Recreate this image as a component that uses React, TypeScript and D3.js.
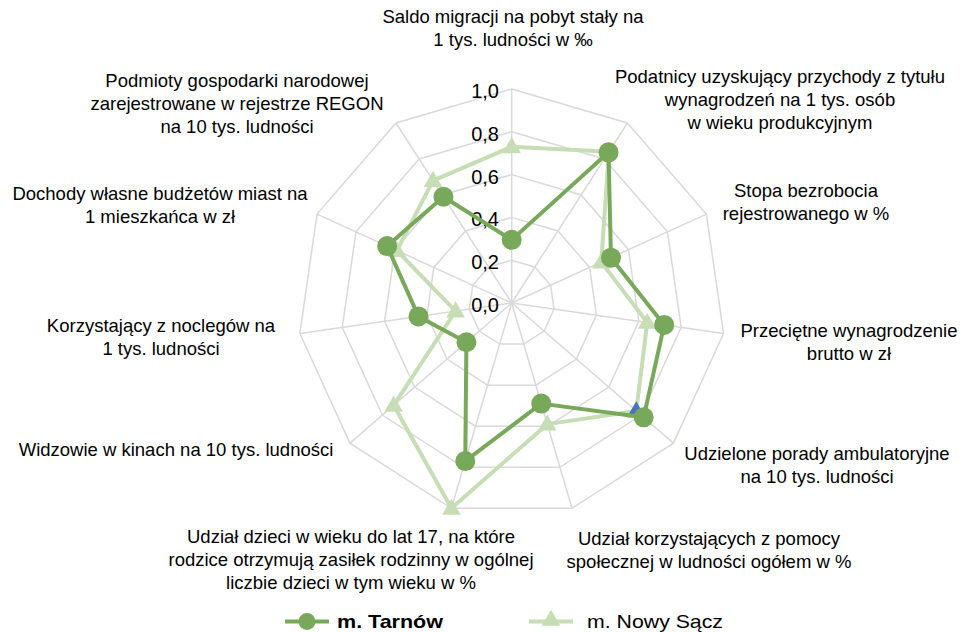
import React from "react";
import * as d3 from "d3";

const categories = [
  "Saldo migracji na pobyt stały na|1 tys. ludności w ‰",
  "Podatnicy uzyskujący przychody z tytułu|wynagrodzeń na 1 tys. osób|w wieku produkcyjnym",
  "Stopa bezrobocia|rejestrowanego w %",
  "Przeciętne wynagrodzenie|brutto w zł",
  "Udzielone porady ambulatoryjne|na 10 tys. ludności",
  "Udział korzystających z pomocy|społecznej w ludności ogółem w %",
  "Udział dzieci w wieku do lat 17, na które|rodzice otrzymują zasiłek rodzinny w ogólnej|liczbie dzieci w tym wieku w %",
  "Widzowie w kinach na 10 tys. ludności",
  "Korzystający z noclegów na|1 tys. ludności",
  "Dochody własne budżetów miast na|1 mieszkańca w zł",
  "Podmioty gospodarki narodowej|zarejestrowane w rejestrze REGON|na 10 tys. ludności",
];

const tarnow = [0.295, 0.837, 0.51, 0.72, 0.816, 0.49, 0.77, 0.28, 0.44, 0.64, 0.59];
const nowySacz = [0.73, 0.84, 0.46, 0.64, 0.77, 0.59, 1.0, 0.73, 0.265, 0.59, 0.68];
const ticks = [0, 0.2, 0.4, 0.6, 0.8, 1.0];
const seriesNames = ["m. Tarnów", "m. Nowy Sącz"];

// label layout: center x, first baseline y
const labelLayout: [number, number][] = [
  [513, 23],
  [780, 83],
  [806, 197],
  [849, 337],
  [817, 460],
  [709, 545],
  [351, 543],
  [176, 456],
  [161, 332],
  [160, 200],
  [237, 87],
];

const W = 962;
const H = 632;
const cx = 511.7;
const cy = 303;
const R = 214;
const DARK = "#78A85A";
const LIGHT = "#C6DDB6";
const GRID = "#D9D9D9";
const FONT = "'Liberation Sans', Arial, sans-serif";

export default function App() {
  const n = categories.length;
  const r = d3.scaleLinear().domain([0, 1]).range([0, R]);
  const angle = d3
    .scaleLinear()
    .domain([0, n])
    .range([0, 2 * Math.PI]);
  const pt = (i: number, v: number): [number, number] => {
    const a = angle(i);
    return [cx + r(v) * Math.sin(a), cy - r(v) * Math.cos(a)];
  };
  const radial = d3
    .lineRadial<number>()
    .angle((_, i) => angle(i))
    .radius((d) => r(d))
    .curve(d3.curveLinearClosed);

  const idx = d3.range(n);
  const tri = d3.symbol().type(d3.symbolTriangle).size(150)();

  return (
    <svg
      width={W}
      height={H}
      style={{ position: "absolute", left: 0, top: 0, background: "#fff" }}
      fontFamily={FONT}
    >
      {/* grid rings */}
      {ticks.slice(1).map((t) => (
        <path
          key={t}
          d={radial(idx.map(() => t)) || ""}
          transform={`translate(${cx},${cy})`}
          fill="none"
          stroke={GRID}
          strokeWidth={1.5}
        />
      ))}
      {/* spokes */}
      {idx.map((i) => {
        const [x, y] = pt(i, 1);
        return <line key={i} x1={cx} y1={cy} x2={x} y2={y} stroke={GRID} strokeWidth={1.5} />;
      })}
      {/* tick labels */}
      {ticks.map((t) => (
        <text key={t} x={499} y={cy - r(t) + 9} textAnchor="end" fontSize={20} fill="#000">
          {t.toFixed(1).replace(".", ",")}
        </text>
      ))}
      {/* category labels */}
      {categories.map((c, i) => (
        <text key={i} fontSize={18.5} fill="#000" textAnchor="middle">
          {c.split("|").map((line, k) => (
            <tspan key={k} x={labelLayout[i][0]} y={labelLayout[i][1] + k * 23}>
              {line}
            </tspan>
          ))}
        </text>
      ))}
      {/* Nowy Sącz */}
      <path
        d={radial(nowySacz) || ""}
        transform={`translate(${cx},${cy})`}
        fill="none"
        stroke={LIGHT}
        strokeWidth={4}
        strokeLinejoin="round"
      />
      {nowySacz.map((v, i) => {
        const [x, y] = pt(i, v);
        return (
          <path key={i} d={tri || ""} transform={`translate(${x},${y + 1})`} fill={i === 4 ? "#4472C4" : LIGHT} />
        );
      })}
      {/* Tarnów */}
      <path
        d={radial(tarnow) || ""}
        transform={`translate(${cx},${cy})`}
        fill="none"
        stroke={DARK}
        strokeWidth={4}
        strokeLinejoin="round"
      />
      {tarnow.map((v, i) => {
        const [x, y] = pt(i, v);
        return <circle key={i} cx={x} cy={y} r={10} fill={DARK} />;
      })}
      {/* legend */}
      <line x1={285} x2={329} y1={621.5} y2={621.5} stroke={DARK} strokeWidth={4} />
      <circle cx={307} cy={621.5} r={8.5} fill={DARK} />
      <text x={337} y={627.5} fontSize={19} fontWeight="bold" fill="#000" textLength={106} lengthAdjust="spacingAndGlyphs">
        {seriesNames[0]}
      </text>
      <line x1={529} x2={573} y1={621.5} y2={621.5} stroke={LIGHT} strokeWidth={4} />
      <path d={tri || ""} transform={`translate(551,620.5)`} fill={LIGHT} />
      <text x={587} y={627.5} fontSize={19} fill="#000" textLength={136} lengthAdjust="spacingAndGlyphs">
        {seriesNames[1]}
      </text>
    </svg>
  );
}
